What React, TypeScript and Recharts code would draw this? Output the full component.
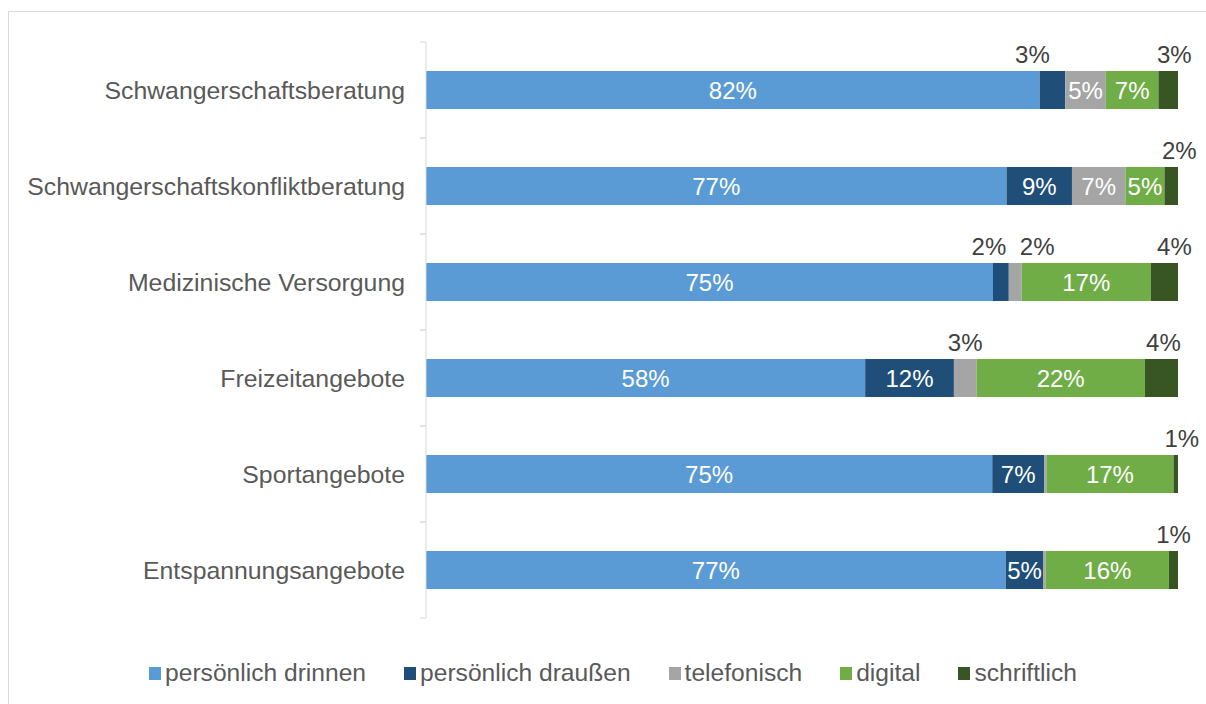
import React from 'react';
import { BarChart, Bar, XAxis, YAxis, Legend, LabelList } from 'recharts';

const categories = [
  'Schwangerschaftsberatung',
  'Schwangerschaftskonfliktberatung',
  'Medizinische Versorgung',
  'Freizeitangebote',
  'Sportangebote',
  'Entspannungsangebote',
];
const drinnen = [81.6, 77.2, 75.4, 58.4, 75.3, 77.1];
const draussen = [3.4, 8.7, 2.1, 11.8, 6.9, 5.0];
const telefonisch = [5.4, 7.1, 1.7, 3.0, 0.3, 0.3];
const digital = [7.0, 5.2, 17.2, 22.4, 16.9, 16.4];
const schriftlich = [2.6, 1.8, 3.6, 4.4, 0.6, 1.2];

const seriesNames = ['persönlich drinnen', 'persönlich draußen', 'telefonisch', 'digital', 'schriftlich'];
const seriesKeys = ['drinnen', 'draussen', 'telefonisch', 'digital', 'schriftlich'];
const seriesColors = ['#5B9BD5', '#1F4E79', '#A5A5A5', '#70AD47', '#375623'];

const data = categories.map((name, i) => ({
  name,
  drinnen: drinnen[i],
  draussen: draussen[i],
  telefonisch: telefonisch[i],
  digital: digital[i],
  schriftlich: schriftlich[i],
}));

const FONT = '"Liberation Sans", Arial, sans-serif';

// horizontal nudges for labels placed above narrow segments (style only)
const nudges: Record<string, number> = {
  'draussen-0': -20,
  'schriftlich-0': 6,
  'schriftlich-1': 8,
  'draussen-2': -12,
  'telefonisch-2': 22,
  'schriftlich-2': 10,
  'schriftlich-3': 2,
  'schriftlich-4': 6,
};

const makeLabel = (series: string) => (props: any) => {
  const vb = props.viewBox || {};
  const x = props.x ?? vb.x;
  const y = props.y ?? vb.y;
  const width = props.width ?? vb.width;
  const height = props.height ?? vb.height;
  const value = Number(props.value);
  const index = props.index;
  if (!(value >= 0.5)) return null;
  const text = `${Math.round(value)}%`;
  if (width >= 35) {
    return (
      <text x={x + width / 2} y={y + height / 2} fill="#ffffff" textAnchor="middle"
        dominantBaseline="central" fontSize={24} fontFamily={FONT}>{text}</text>
    );
  }
  const dx = nudges[`${series}-${index}`] ?? 0;
  return (
    <text x={x + width / 2 + dx} y={y - 17} fill="#404040" textAnchor="middle"
      dominantBaseline="central" fontSize={24} fontFamily={FONT}>{text}</text>
  );
};

const CategoryTick = (props: any) => {
  const { x, y, payload } = props;
  const half = payload && typeof payload.offset === 'number' && payload.offset > 0 ? payload.offset : 48;
  return (
    <g>
      <text x={x - 21} y={y} textAnchor="end" dominantBaseline="central" fill="#595959"
        fontSize={24.8} fontFamily={FONT}>{payload.value}</text>
      <line x1={x - 6} x2={x} y1={y - half} y2={y - half} stroke="#D9D9D9" strokeWidth={1} />
      <line x1={x - 6} x2={x} y1={y + half} y2={y + half} stroke="#D9D9D9" strokeWidth={1} />
    </g>
  );
};

const renderLegend = () => (
  <div style={{ height: 70, boxSizing: 'border-box', paddingTop: 40, paddingLeft: 11,
    display: 'flex', justifyContent: 'center', alignItems: 'center' }}>
    <div style={{ display: 'flex', alignItems: 'center', gap: 38, height: 30 }}>
      {seriesNames.map((n, i) => (
        <div key={n} style={{ display: 'flex', alignItems: 'center' }}>
          <div style={{ width: 12, height: 13, background: seriesColors[i], marginRight: 4 }} />
          <span style={{ fontFamily: FONT, fontSize: 24.6, color: '#595959', lineHeight: '30px' }}>{n}</span>
        </div>
      ))}
    </div>
  </div>
);

export default function App() {
  return (
    <div style={{ position: 'fixed', left: 8, top: 11, width: 1300, height: 800,
      border: '1px solid #D9D9D9', background: '#fff' }}>
      <BarChart width={1197} height={692} data={data} layout="vertical"
        margin={{ top: 30, right: 28, bottom: 16, left: 0 }} barSize={38}>
        <XAxis type="number" domain={[0, 100]} hide />
        <YAxis type="category" dataKey="name" width={417} axisLine={{ stroke: '#D9D9D9' }}
          tickLine={false} tickSize={0} tickMargin={0} tick={<CategoryTick />} interval={0} />
        <Legend verticalAlign="bottom" content={renderLegend}
          wrapperStyle={{ left: 0, width: 1197 }} />
        {seriesKeys.map((k, i) => (
          <Bar key={k} dataKey={k} name={seriesNames[i]} stackId="a" fill={seriesColors[i]}
            isAnimationActive={false}>
            <LabelList dataKey={k} content={makeLabel(k)} />
          </Bar>
        ))}
      </BarChart>
    </div>
  );
}
